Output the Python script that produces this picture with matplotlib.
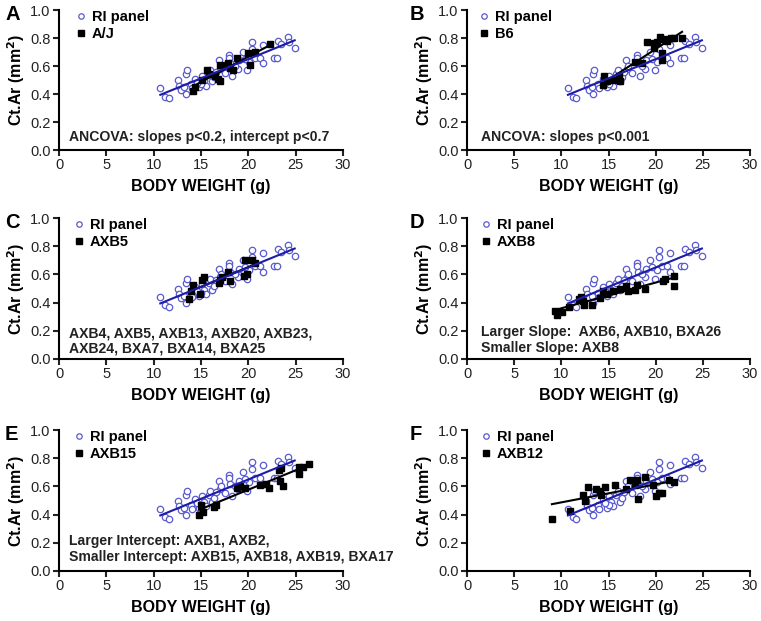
import numpy as np
import matplotlib
matplotlib.use("Agg")
import matplotlib.pyplot as plt

plt.rcParams['font.family'] = ['Liberation Sans', 'DejaVu Sans']

# RI panel (common reference cloud)
ri_x = [10.7, 11.2, 11.6, 12.6, 12.7, 12.9, 13.2, 13.4, 13.5, 13.4, 13.9, 14.4, 14.8, 15.1, 15.3,
        15.5, 15.8, 16.0, 16.2, 16.9, 17.0, 17.1, 18.0, 18.0, 18.1, 18.3, 18.9, 19.0, 19.45, 19.9,
        20.1, 20.4, 20.4, 20.7, 21.2, 21.5, 21.5, 22.7, 23.0, 23.1, 23.5, 24.2, 24.3, 24.9,
        14.0, 15.0, 16.4, 17.5, 18.6, 19.6, 14.6, 16.6]
ri_y = [0.44, 0.38, 0.37, 0.50, 0.46, 0.43, 0.45, 0.54, 0.57, 0.40, 0.47, 0.51, 0.45, 0.53, 0.49,
        0.46, 0.54, 0.57, 0.49, 0.64, 0.58, 0.60, 0.68, 0.66, 0.62, 0.53, 0.58, 0.64, 0.70, 0.57,
        0.63, 0.77, 0.72, 0.66, 0.66, 0.62, 0.75, 0.66, 0.66, 0.78, 0.76, 0.81, 0.77, 0.73,
        0.44, 0.47, 0.52, 0.55, 0.60, 0.65, 0.48, 0.56]

# Strain series
aj_x = [14.2, 14.4, 15.1, 15.6, 15.8, 16.5, 16.8, 17.0, 17.0, 17.7, 17.9, 18.1, 18.4, 18.8, 20.0, 20.2, 20.7, 22.3]
aj_y = [0.42, 0.45, 0.50, 0.57, 0.54, 0.53, 0.51, 0.49, 0.61, 0.61, 0.62, 0.585, 0.57, 0.66, 0.69, 0.61, 0.70, 0.76]

b6_x = [14.4, 14.5, 14.8, 15.5, 16.1, 16.2, 17.8, 18.5, 19.1, 19.8, 19.85, 20.1, 20.5, 20.7, 20.7, 20.85, 21.2, 21.6, 21.9, 22.8]
b6_y = [0.467, 0.53, 0.49, 0.50, 0.53, 0.49, 0.63, 0.62, 0.775, 0.765, 0.73, 0.775, 0.805, 0.69, 0.645, 0.79, 0.78, 0.80, 0.80, 0.80]

axb5_x = [13.7, 13.9, 14.2, 14.9, 15.1, 15.3, 16.85, 17.0, 17.2, 17.9, 18.1, 19.5, 19.7, 19.85, 20.4, 20.7]
axb5_y = [0.426, 0.48, 0.525, 0.46, 0.56, 0.58, 0.54, 0.56, 0.58, 0.62, 0.55, 0.59, 0.70, 0.60, 0.70, 0.68]

axb8_x = [9.3, 9.5, 10.1, 10.8, 11.9, 12.1, 12.3, 12.4, 13.2, 14.1, 14.4, 14.8, 15.5, 16.2, 16.9, 17.1, 17.8, 18.0, 18.9, 20.8, 21.0, 21.9, 21.9]
axb8_y = [0.341, 0.313, 0.332, 0.367, 0.424, 0.44, 0.41, 0.38, 0.38, 0.435, 0.48, 0.46, 0.48, 0.495, 0.52, 0.48, 0.49, 0.525, 0.50, 0.553, 0.567, 0.59, 0.517]

axb15_x = [14.8, 15.2, 15.0, 16.4, 16.6, 18.75, 19.1, 19.7, 21.2, 21.9, 22.2, 23.2, 23.5, 23.3, 23.7, 25.3, 25.4, 25.8, 26.4]
axb15_y = [0.40, 0.42, 0.47, 0.456, 0.47, 0.586, 0.605, 0.59, 0.61, 0.62, 0.59, 0.716, 0.73, 0.64, 0.605, 0.74, 0.69, 0.74, 0.76]

axb12_x = [9.0, 10.9, 12.3, 12.5, 12.8, 13.7, 14.1, 14.2, 14.6, 15.7, 16.9, 17.3, 17.8, 18.0, 18.1, 18.85, 19.7, 20.0, 20.4, 20.7, 21.4, 21.9]
axb12_y = [0.366, 0.425, 0.54, 0.50, 0.596, 0.584, 0.565, 0.537, 0.596, 0.608, 0.584, 0.644, 0.608, 0.644, 0.513, 0.667, 0.608, 0.532, 0.556, 0.556, 0.648, 0.632]

panels = [
    ("A", "A/J", aj_x, aj_y, ["ANCOVA: slopes p<0.2, intercept p<0.7"]),
    ("B", "B6", b6_x, b6_y, ["ANCOVA: slopes p<0.001"]),
    ("C", "AXB5", axb5_x, axb5_y, ["AXB4, AXB5, AXB13, AXB20, AXB23,", "AXB24, BXA7, BXA14, BXA25"]),
    ("D", "AXB8", axb8_x, axb8_y, ["Larger Slope:  AXB6, AXB10, BXA26", "Smaller Slope: AXB8"]),
    ("E", "AXB15", axb15_x, axb15_y, ["Larger Intercept: AXB1, AXB2,", "Smaller Intercept: AXB15, AXB18, AXB19, BXA17"]),
    ("F", "AXB12", axb12_x, axb12_y, []),
]

W, H = 761, 621
fig = plt.figure(figsize=(W / 100, H / 100), dpi=100)

col_left = [59, 467]
col_w = [284, 283]
row_top = [10, 218, 430]
row_h = [140, 141, 141]

text_pos = {"A": (1.05, [0.093]), "B": (1.5, [0.095]), "C": (1.05, [0.18, 0.073]),
            "D": (1.5, [0.19, 0.078]), "E": (1.05, [0.21, 0.10]), "F": (1.0, [])}
legend_pos = {"A": 0.062, "B": 0.046, "C": 0.055, "D": 0.052, "E": 0.055, "F": 0.052}
letter_x = {0: 5, 1: 410}

blue_pt = '#5a5ad0'
blue_ln = '#1c1ca8'

for i, (letter, name, sx, sy, notes) in enumerate(panels):
    r, c = divmod(i, 2)
    l = col_left[c]; w = col_w[c]; t = row_top[r]; h = row_h[r]
    ax = fig.add_axes([l / W, 1 - (t + h) / H, w / W, h / H])
    ax.set_xlim(0, 30)
    ax.set_ylim(0, 1.0)
    for s in ['top', 'right']:
        ax.spines[s].set_visible(False)
    for s in ['left', 'bottom']:
        ax.spines[s].set_linewidth(1.5)
    ax.set_xticks([0, 5, 10, 15, 20, 25, 30])
    ax.set_yticks([0.0, 0.2, 0.4, 0.6, 0.8, 1.0])
    ax.set_yticklabels(['0.0', '0.2', '0.4', '0.6', '0.8', '1.0'])
    ax.tick_params(direction='out', length=4, width=1.5, labelsize=10.5, pad=2, colors='#222222')

    rx = np.array(ri_x); ry = np.array(ri_y)
    ax.plot(rx, ry, 'o', ms=4.6, mfc='white', mec=blue_pt, mew=0.9, label='RI panel', zorder=3)
    p = np.polyfit(rx, ry, 1)
    xx = np.array([rx.min(), rx.max()])
    ax.plot(xx, np.polyval(p, xx), '-', color=blue_ln, lw=1.5, zorder=5)

    bx = np.array(sx); by = np.array(sy)
    ax.plot(bx, by, 's', ms=4.6, color='black', label=name, zorder=4)
    q = np.polyfit(bx, by, 1)
    xb = np.array([bx.min(), bx.max()])
    ax.plot(xb, np.polyval(q, xb), '-', color='black', lw=1.5, zorder=4)

    ax.set_xlabel('BODY WEIGHT (g)', fontsize=11.5, fontweight='bold', labelpad=5)
    ax.set_ylabel('Ct.Ar (mm$^\\mathbf{2}$)', fontsize=11.5, fontweight='bold', labelpad=2)

    leg = ax.legend(loc='upper left', bbox_to_anchor=(legend_pos[letter], 1.0), frameon=False,
                    borderaxespad=0, borderpad=0, handlelength=0.6, handletextpad=0.45,
                    labelspacing=0.2, markerscale=0.85,
                    prop={'weight': 'bold', 'size': 10.5})

    tx, tys = text_pos[letter]
    for note, ty in zip(notes, tys):
        ax.text(tx, ty, note, fontsize=10.1, fontweight='bold', ha='left', va='center',
                color='#222222', clip_on=False)

    fig.text(letter_x[c] / W, 1 - (t + 5) / H, letter, fontsize=14.5, fontweight='bold',
             ha='left', va='center')

fig.savefig('out.png', dpi=100)
